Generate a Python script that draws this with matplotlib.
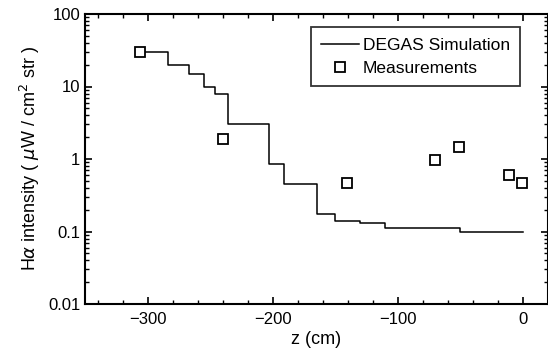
import matplotlib
matplotlib.use("Agg")
import matplotlib.pyplot as plt
from matplotlib.ticker import MultipleLocator, LogLocator, NullFormatter

plt.rcParams['font.family'] = ['Liberation Sans', 'DejaVu Sans']

# DEGAS simulation (step edges, cm) and levels
sim_z = [-306, -284, -267, -255, -246, -236, -203, -191, -165, -150, -130, -110, -70, -50, 0]
sim_v = [30, 20, 15, 10, 7.8, 3.0, 0.85, 0.45, 0.175, 0.14, 0.13, 0.11, 0.113, 0.1, 0.1]

# measurements
meas_z = [-306, -240, -141, -70, -51.5, -11, -0.5]
meas_v = [30, 1.87, 0.46, 0.98, 1.45, 0.6, 0.47]

fig = plt.figure(figsize=(5.48, 3.59), dpi=100)
ax = fig.add_axes([85/548, 1 - 304/359, 463/548, 290/359])

ax.step(sim_z, sim_v, where='post', color='black', lw=1.1, label='DEGAS Simulation')
ax.plot(meas_z, meas_v, linestyle='none', marker='s', ms=7.5, mfc='white',
        mec='black', mew=1.3, label='Measurements')

ax.set_yscale('log')
ax.set_xlim(-350, 20)
ax.set_ylim(0.01, 100)
ax.set_xticks([-300, -200, -100, 0])
ax.xaxis.set_minor_locator(MultipleLocator(20))
ax.yaxis.set_major_locator(LogLocator(base=10, numticks=10))
ax.yaxis.set_minor_locator(LogLocator(base=10, subs=range(2, 10), numticks=10))
ax.yaxis.set_minor_formatter(NullFormatter())
ax.set_yticks([0.01, 0.1, 1, 10, 100])
ax.set_yticklabels(['0.01', '0.1', '1', '10', '100'])

ax.tick_params(which='both', direction='in', top=True, right=True, labelsize=12)
ax.tick_params(axis='x', pad=6)
ax.tick_params(which='major', length=5, width=1.2)
ax.tick_params(which='minor', length=3, width=1)
for s in ax.spines.values():
    s.set_linewidth(1.5)

ax.set_xlabel('z (cm)', fontsize=13, labelpad=3)
ax.set_ylabel(r'H$\alpha$ intensity ( $\mu$W / cm$^2$ str )', fontsize=13, labelpad=4)

leg = ax.legend(loc='upper right', bbox_to_anchor=(0.94, 0.955), fontsize=12.5,
                frameon=True, fancybox=False, edgecolor='black', handlelength=2.2,
                borderpad=0.6, labelspacing=0.45, handletextpad=0.2, borderaxespad=0.0)
leg.get_frame().set_linewidth(1.3)

fig.savefig('out.png', dpi=100)
